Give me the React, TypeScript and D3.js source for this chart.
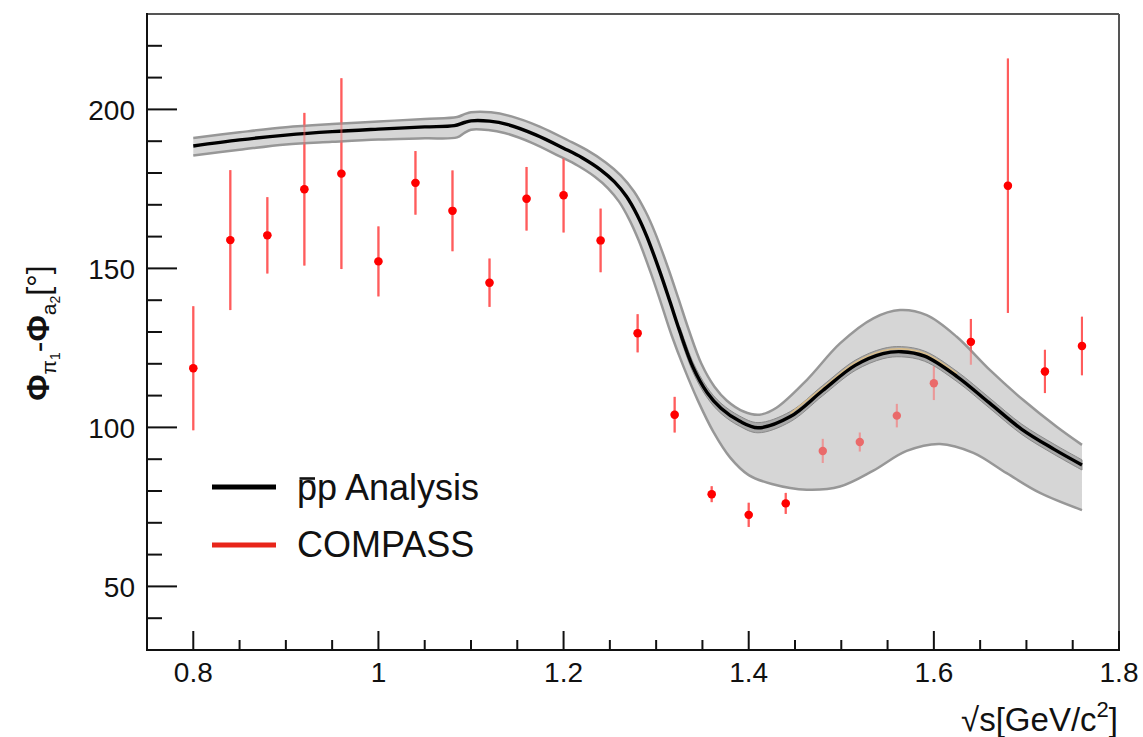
import React from "react";
import * as d3 from "d3";

// ---- Model curve (p̄p analysis): central value ----
const centerX = [0.8, 0.85, 0.9, 0.95, 1.0, 1.05, 1.082, 1.092, 1.1, 1.12, 1.14, 1.17, 1.2, 1.22, 1.24, 1.255, 1.268, 1.28, 1.29, 1.304, 1.315, 1.326, 1.34, 1.355, 1.37, 1.39, 1.41, 1.445, 1.48, 1.515, 1.545, 1.565, 1.59, 1.625, 1.66, 1.695, 1.73, 1.76];
const centerV = [188.5, 190.4, 191.9, 193.0, 193.8, 194.5, 194.9, 195.8, 196.4, 196.3, 195.2, 192.0, 187.8, 184.8, 181.0, 177.2, 172.6, 166.5, 160.0, 149.0, 139.5, 129.8, 118.8, 111.0, 106.0, 102.0, 99.9, 103.4, 111.6, 119.5, 123.2, 123.8, 122.4, 116.0, 107.7, 99.4, 93.1, 88.2];

// ---- outer error band: upper edge ----
const upperX = [0.8, 0.85, 0.9, 0.95, 1.0, 1.05, 1.085, 1.093, 1.1, 1.1215, 1.1437, 1.1742, 1.2047, 1.2249, 1.2459, 1.262, 1.2761, 1.2887, 1.299, 1.3132, 1.3242, 1.3352, 1.3489, 1.363, 1.3765, 1.3945, 1.4116, 1.43, 1.4627, 1.4986, 1.5346, 1.5634, 1.5923, 1.6247, 1.6607, 1.6966, 1.7327, 1.76];
const upperV = [191.0, 192.8, 194.4, 195.4, 196.2, 197.0, 197.6, 198.5, 199.1, 199.1, 197.8, 194.6, 190.3, 187.25, 183.25, 179.2, 174.2, 167.8, 161.1, 149.9, 140.4, 130.7, 120.0, 112.8, 108.4, 105.0, 104.0, 106.2, 114.9, 126.4, 134.3, 136.9, 135.3, 128.5, 118.0, 108.6, 100.2, 94.5];

// ---- outer error band: lower edge ----
const lowerX = [0.8, 0.85, 0.9, 0.95, 1.0, 1.05, 1.085, 1.093, 1.1, 1.1185, 1.1363, 1.1658, 1.1953, 1.2151, 1.2341, 1.248, 1.2599, 1.2713, 1.281, 1.2948, 1.3058, 1.3168, 1.33, 1.345, 1.362, 1.38, 1.4, 1.425, 1.4627, 1.4986, 1.5346, 1.5706, 1.6066, 1.6427, 1.6787, 1.7147, 1.76];
const lowerV = [185.5, 187.3, 189.0, 189.8, 190.5, 190.9, 191.2, 192.6, 193.6, 193.5, 192.6, 189.5, 185.3, 182.35, 178.75, 175.2, 171.0, 165.2, 158.9, 148.1, 138.6, 128.9, 118.8, 108.5, 98.5, 90.5, 85.0, 82.2, 80.4, 81.4, 86.4, 92.6, 94.8, 92.0, 85.6, 79.4, 74.0];

const innerHalfWidth = 1.6;

// ---- COMPASS data points ----
const compassX = [0.8, 0.84, 0.88, 0.92, 0.96, 1.0, 1.04, 1.08, 1.12, 1.16, 1.2, 1.24, 1.28, 1.32, 1.36, 1.4, 1.44, 1.48, 1.52, 1.56, 1.6, 1.64, 1.68, 1.72, 1.76];
const compassY = [118.6, 158.9, 160.4, 174.9, 179.8, 152.2, 176.9, 168.1, 145.5, 171.9, 173.0, 158.8, 129.6, 104.0, 79.0, 72.5, 76.1, 92.6, 95.4, 103.7, 113.9, 126.9, 176.0, 117.6, 125.6];
const compassErr = [19.5, 22.0, 12.0, 24.0, 30.0, 11.0, 10.0, 12.7, 7.6, 10.0, 11.7, 10.0, 6.0, 5.6, 2.5, 3.8, 3.3, 3.8, 3.0, 3.7, 5.3, 7.2, 40.0, 6.8, 9.2];

// ---- Axes ----
const xMajorTicks = [0.8, 1.0, 1.2, 1.4, 1.6, 1.8];
const xTickLabels = ["0.8", "1", "1.2", "1.4", "1.6", "1.8"];
const yMajorTicks = [50, 100, 150, 200];
const yTickLabels = ["50", "100", "150", "200"];

// ---- Legend ----
const legendLabels = ["p Analysis", "COMPASS"];
const legendColors = ["#000000", "#e8251a"];

const W = 1143;
const H = 737;
const FONT = "'Liberation Sans', Arial, Helvetica, sans-serif";

export default function App() {
  const x = d3.scaleLinear().domain([0.75, 1.8]).range([147, 1119]);
  const y = d3.scaleLinear().domain([30, 230]).range([650, 14]);

  const curveFn = d3.curveCatmullRom.alpha(0.5);
  const pts = (xs: number[], vs: number[]) => xs.map((xv, i) => [xv, vs[i]] as [number, number]);
  const line = d3
    .line<[number, number]>()
    .x((d) => x(d[0]))
    .y((d) => y(d[1]))
    .curve(curveFn);

  const upperPts = pts(upperX, upperV);
  const lowerPts = pts(lowerX, lowerV);
  const centerPts = pts(centerX, centerV);

  const upperPath = line(upperPts) || "";
  const lowerRevPath = (line(lowerPts.slice().reverse()) || "").replace(/^M/, "L");
  const bandPath = upperPath + lowerRevPath + "Z";

  const innerSel = centerPts.filter((d) => d[0] >= 1.326);
  const innerUp = innerSel.map((d) => [d[0], d[1] + innerHalfWidth] as [number, number]);
  const innerLo = innerSel.map((d) => [d[0], d[1] - innerHalfWidth] as [number, number]);
  const innerPath =
    (line(innerUp) || "") + (line(innerLo.slice().reverse()) || "").replace(/^M/, "L") + "Z";

  const tanPts = centerPts
    .filter((d) => d[0] >= 1.445 && d[0] <= 1.625)
    .map((d) => [d[0], d[1] + 0.9] as [number, number]);

  const xMinor = d3.range(0.85, 1.8, 0.05).filter((v) => !xMajorTicks.some((m) => Math.abs(m - v) < 1e-6));
  const yMinor = d3.range(40, 230, 10).filter((v) => !yMajorTicks.some((m) => Math.abs(m - v) < 1e-6));

  const compass = (opacity: number, key: string) => (
    <g key={key} opacity={opacity}>
      {compassX.map((cx, i) => (
        <line
          key={"e" + i}
          x1={x(cx)}
          x2={x(cx)}
          y1={y(compassY[i] - compassErr[i])}
          y2={y(compassY[i] + compassErr[i])}
          stroke="#ff5c5c"
          strokeWidth={2.1}
        />
      ))}
      {compassX.map((cx, i) => (
        <circle key={"m" + i} cx={x(cx)} cy={y(compassY[i])} r={4.2} fill="#ff0000" />
      ))}
    </g>
  );

  const [x0, x1] = x.range();
  const [yb, yt] = y.range();

  const legY = [487, 545];
  const legTextY = [500, 557];

  return (
    <svg
      width={W}
      height={H}
      viewBox={`0 0 ${W} ${H}`}
      style={{ position: "absolute", left: 0, top: 0, background: "#fff" }}
      fontFamily={FONT}
    >
      {/* data under band */}
      {compass(1, "under")}

      {/* outer error band */}
      <path d={bandPath} fill="#d6d6d6" />
      <path d={upperPath} fill="none" stroke="#979797" strokeWidth={2.5} />
      <path d={line(lowerPts) || ""} fill="none" stroke="#979797" strokeWidth={2.5} />

      {/* inner band */}
      <path d={innerPath} fill="#a9a9a9" stroke="#8a8a8a" strokeWidth={1} />
      <path d={line(tanPts) || ""} fill="none" stroke="#d9bd8a" strokeWidth={1.6} />

      {/* central curve */}
      <path d={line(centerPts) || ""} fill="none" stroke="#000" strokeWidth={3.4} />

      {/* data overlay */}
      {compass(0.5, "over")}

      {/* frame */}
      <line x1={x0} x2={x1} y1={yt} y2={yt} stroke="#555" strokeWidth={2} />
      <line x1={x1} x2={x1} y1={yt} y2={yb} stroke="#555" strokeWidth={2} />
      <line x1={x0} x2={x0} y1={yt - 1} y2={yb + 1} stroke="#111" strokeWidth={2} />
      <line x1={x0 - 1} x2={x1 + 1} y1={yb} y2={yb} stroke="#111" strokeWidth={2} />

      {/* y ticks */}
      {yMajorTicks.map((v) => (
        <line key={"ym" + v} x1={x0} x2={x0 + 30} y1={y(v)} y2={y(v)} stroke="#111" strokeWidth={2} />
      ))}
      {yMinor.map((v) => (
        <line key={"yn" + v} x1={x0} x2={x0 + 15} y1={y(v)} y2={y(v)} stroke="#111" strokeWidth={2} />
      ))}
      {yMajorTicks.map((v, i) => (
        <text key={"yl" + v} x={135} y={y(v) + 11} textAnchor="end" fontSize={28} fill="#111">
          {yTickLabels[i]}
        </text>
      ))}

      {/* x ticks */}
      {xMajorTicks.map((v) => (
        <line key={"xm" + v} x1={x(v)} x2={x(v)} y1={yb} y2={yb - 19} stroke="#111" strokeWidth={2} />
      ))}
      {xMinor.map((v) => (
        <line key={"xn" + v.toFixed(2)} x1={x(v)} x2={x(v)} y1={yb} y2={yb - 10} stroke="#111" strokeWidth={2} />
      ))}
      {xMajorTicks.map((v, i) => (
        <text key={"xl" + v} x={x(v)} y={682} textAnchor="middle" fontSize={28} fill="#111">
          {xTickLabels[i]}
        </text>
      ))}

      {/* axis titles */}
      <text x={1118} y={731} textAnchor="end" fontSize={33} fill="#111">
        √s[GeV/c<tspan fontSize={22} dy={-14}>2</tspan>
        <tspan dy={14}>]</tspan>
      </text>
      <text transform="translate(49,333) rotate(-90)" textAnchor="middle" fontSize={32} fill="#111">
        <tspan fontWeight="bold">Φ</tspan>
        <tspan fontSize={21} dy={7}>π</tspan>
        <tspan fontSize={14} dy={4}>1</tspan>
        <tspan dy={-11}>-</tspan>
        <tspan fontWeight="bold">Φ</tspan>
        <tspan fontSize={21} dy={7}>a</tspan>
        <tspan fontSize={14} dy={4}>2</tspan>
        <tspan dy={-11}>[°]</tspan>
      </text>

      {/* legend */}
      {legendLabels.map((lab, i) => (
        <g key={"lg" + i}>
          <line x1={212} x2={276} y1={legY[i]} y2={legY[i]} stroke={legendColors[i]} strokeWidth={5} />
          <text x={297} y={legTextY[i]} fontSize={36} fill="#111">
            {i === 0 ? "p" + lab : lab}
          </text>
        </g>
      ))}
      {/* antiparticle bar over the first p */}
      <line x1={299.5} x2={315} y1={478.5} y2={478.5} stroke="#111" strokeWidth={2.6} />
    </svg>
  );
}
